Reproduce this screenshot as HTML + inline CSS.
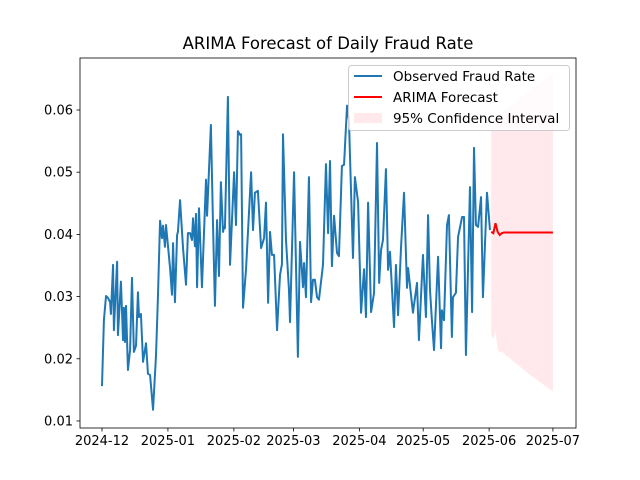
<!DOCTYPE html>
<html><head><meta charset="utf-8"><style>
body{margin:0;background:#fff}
svg{display:block;font-family:"DejaVu Sans","Liberation Sans",sans-serif}
</style></head><body>
<svg id="chart" width="640" height="480">
<rect x="0" y="0" width="640" height="480" fill="#fff"/>
<text x="328" y="49" font-size="16.5" text-anchor="middle">ARIMA Forecast of Daily Fraud Rate</text>
<g id="plot"></g>
</svg>
<script>
// observed series: day offsets from 2024-12-01 and fraud rate values
const obsDays=[0,0.9,1.9,2.8,3.8,4.2,5.2,5.6,7.1,7.5,8.9,9.9,10.3,10.8,11.3,12.2,13.2,14.1,15,16,16.9,17.4,18.3,19.3,20.7,21.6,22.6,24,25.4,26.3,27.3,28.2,28.7,29.6,30.1,32,32.9,33.4,34.3,35.3,35.7,36.7,38.1,39.5,40.4,41.4,42.3,42.8,43.7,44.2,44.7,45.6,47,48.9,49.4,51.2,52.2,53.1,54.1,55,55.9,56.9,57.4,57.8,59.2,60.2,62.1,63,63.9,64.9,65.4,66.3,67.7,70.1,71,71.9,73.3,74.8,76.2,77.1,78.1,79,79.9,80.9,82.3,83.7,84.6,85.1,86.5,87.9,88.4,90.3,92.1,93.1,94.5,95,95.9,97.3,98.3,99.2,100.1,101.1,102,103.9,105.3,106.3,107.2,108.1,109.1,110.5,111.4,112.8,113.8,115.2,116.1,118,118.9,120.4,121.8,123.2,124.1,125.1,126.5,127.9,129.3,130.3,131.2,132.1,133.5,134.5,135.4,137.3,138.2,139.2,140.6,142,143.4,143.9,146.2,148.1,149,150.9,152.3,153.3,154.2,155.1,156.1,158,159.4,159.8,160.8,162.2,163.1,164.5,165,166.4,167.4,169.3,170.2,171.1,173,174,174.9,175.8,176.8,178.2,179.1,181,182.4];
const obsValues=[0.0156,0.0262,0.0301,0.0298,0.0291,0.0272,0.0351,0.0246,0.0356,0.0238,0.0324,0.0230,0.0282,0.0227,0.0285,0.0182,0.0214,0.0330,0.0211,0.0221,0.0307,0.0267,0.0272,0.0195,0.0225,0.0176,0.0174,0.0118,0.0206,0.0299,0.0422,0.0394,0.0414,0.0380,0.0415,0.0346,0.0303,0.0386,0.0291,0.0399,0.0404,0.0455,0.0378,0.0319,0.0402,0.0402,0.0391,0.0426,0.0381,0.0433,0.0315,0.0442,0.0315,0.0488,0.0430,0.0576,0.0415,0.0285,0.0423,0.0333,0.0484,0.0404,0.0412,0.0410,0.0621,0.0351,0.0500,0.0415,0.0566,0.0560,0.0561,0.0282,0.0343,0.0500,0.0407,0.0467,0.0470,0.0378,0.0394,0.0451,0.0290,0.0404,0.0367,0.0367,0.0246,0.0335,0.0352,0.0561,0.0391,0.0311,0.0259,0.0500,0.0203,0.0388,0.0315,0.0354,0.0299,0.0492,0.0291,0.0327,0.0327,0.0299,0.0295,0.0351,0.0513,0.0402,0.0518,0.0349,0.0430,0.0370,0.0365,0.0510,0.0512,0.0607,0.0584,0.0362,0.0492,0.0452,0.0274,0.0344,0.0267,0.0451,0.0275,0.0306,0.0547,0.0322,0.0375,0.0391,0.0505,0.0343,0.0372,0.0251,0.0351,0.0270,0.0380,0.0467,0.0314,0.0346,0.0274,0.0322,0.0230,0.0367,0.0267,0.0431,0.0311,0.0262,0.0214,0.0364,0.0217,0.0278,0.0262,0.0415,0.0431,0.0235,0.0299,0.0306,0.0396,0.0428,0.0428,0.0206,0.0476,0.0275,0.0539,0.0415,0.0412,0.0460,0.0299,0.0467,0.0407];
// forecast
const fcDays=[183,184,185,186,187,188,189,190,191,192,193,194,195,196,197,198,199,200,201,202,203,204,205,206,207,208,209,210,211,212];
const fcValues=[0.0404,0.0402,0.0418,0.0404,0.0399,0.0402,0.0403,0.0403,0.0403,0.0403,0.0403,0.0403,0.0403,0.0403,0.0403,0.0403,0.0403,0.0403,0.0403,0.0403,0.0403,0.0403,0.0403,0.0403,0.0403,0.0403,0.0403,0.0403,0.0403,0.0403];
const ciLower=[0.0238,0.0232,0.0245,0.0215,0.0210,0.0212,0.0208,0.0205,0.0203,0.0200,0.0197,0.0194,0.0191,0.0189,0.0186,0.0183,0.0180,0.0178,0.0175,0.0172,0.0170,0.0167,0.0165,0.0162,0.0160,0.0157,0.0155,0.0152,0.0150,0.0148];
const ciUpper=[0.0570,0.0572,0.0591,0.0593,0.0588,0.0594,0.0598,0.0601,0.0603,0.0606,0.0609,0.0612,0.0615,0.0617,0.0620,0.0623,0.0626,0.0628,0.0631,0.0634,0.0636,0.0639,0.0641,0.0644,0.0646,0.0649,0.0651,0.0654,0.0656,0.0658];
const xTickDays=[0,31,62,90,121,151,182,212];
const xTickLabels=["2024-12","2025-01","2025-02","2025-03","2025-04","2025-05","2025-06","2025-07"];
const yTicks=[0.01,0.02,0.03,0.04,0.05,0.06];
const yTickLabels=["0.01","0.02","0.03","0.04","0.05","0.06"];

const L=80,R=576,T=58,B=428;
const xMin=-10.34,xMax=222.85,yMin=0.00887,yMax=0.06836;
const sx=d=>L+(d-xMin)/(xMax-xMin)*(R-L);
const sy=v=>B-(v-yMin)/(yMax-yMin)*(B-T);
const NS="http://www.w3.org/2000/svg";
const g=document.getElementById('plot');
function mk(tag,attrs,parent){const e=document.createElementNS(NS,tag);for(const k in attrs)e.setAttribute(k,attrs[k]);(parent||g).appendChild(e);return e;}

let pts=fcDays.map((d,i)=>sx(d)+","+sy(ciUpper[i]));
for(let i=fcDays.length-1;i>=0;i--)pts.push(sx(fcDays[i])+","+sy(ciLower[i]));
const band=mk('polygon',{points:pts.join(" "),fill:"#ffc0cb",'fill-opacity':"0.35"});



const obs=mk('polyline',{points:obsDays.map((d,i)=>sx(d)+","+sy(obsValues[i])).join(" "),fill:"none",stroke:"#1f77b4",'stroke-width':"2",'stroke-linejoin':"round"});



const fc=mk('polyline',{points:fcDays.map((d,i)=>sx(d)+","+sy(fcValues[i])).join(" "),fill:"none",stroke:"#ff0000",'stroke-width':"2"});



const frame=mk('rect',{x:L,y:T,width:R-L,height:B-T,fill:"none",stroke:"#000",'stroke-width':"0.8"});



xTickDays.forEach((d,i)=>{
  const x=sx(d);
  const t=mk('line',{x1:x,x2:x,y1:B,y2:B+3.5,stroke:"#000",'stroke-width':"0.8"});
  
  
  const lb=mk('text',{x:x,y:B+17,'font-size':"13",'text-anchor':"middle"});
  lb.textContent=xTickLabels[i];
  
  
});
yTicks.forEach((v,i)=>{
  const y=sy(v);
  const t=mk('line',{x1:L-3.5,x2:L,y1:y,y2:y,stroke:"#000",'stroke-width':"0.8"});
  
  
  const lb=mk('text',{x:L-7,y:y+4.5,'font-size':"13",'text-anchor':"end"});
  lb.textContent=yTickLabels[i];
  
  
});

const lg=mk('g',{});


mk('rect',{x:348.5,y:65.5,width:221,height:65,rx:3,fill:"#fff",'fill-opacity':"0.8",stroke:"#ccc"},lg);
const items=[["Observed Fraud Rate","line","#1f77b4"],["ARIMA Forecast","line","#ff0000"],["95% Confidence Interval","patch","#ffc0cb"]];
items.forEach((it,i)=>{
  const y=76+i*21;
  const e=mk('g',{},lg);
  
  
  if(it[1]=="line")mk('line',{x1:354,x2:382,y1:y,y2:y,stroke:it[2],'stroke-width':"2"},e);
  else mk('rect',{x:354,y:y-5,width:28,height:10,fill:it[2],'fill-opacity':"0.35"},e);
  const tx=mk('text',{x:393,y:y+5,'font-size':"13.5"},e);
  tx.textContent=it[0];
});
</script>
</body></html>
